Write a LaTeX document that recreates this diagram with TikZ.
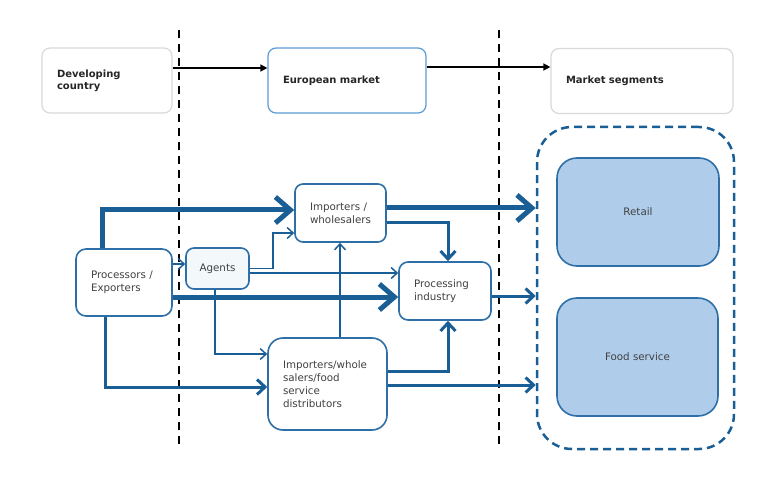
\documentclass[tikz,border=0pt]{standalone}
\usepackage{fontspec}
\setmainfont{DejaVu Sans}
\usetikzlibrary{arrows.meta,calc}
\definecolor{linec}{RGB}{26,94,150}
\definecolor{boxc}{RGB}{46,111,167}
\definecolor{eurc}{RGB}{91,155,213}
\definecolor{grayc}{RGB}{217,217,217}
\definecolor{segfill}{RGB}{175,205,235}
\definecolor{agfill}{RGB}{243,248,250}
\definecolor{txtc}{RGB}{64,64,64}
\begin{document}
\begin{tikzpicture}[x=1pt,y=-1pt,
  every node/.style={execute at begin node={\hyphenpenalty=10000\exhyphenpenalty=10000}},
  topbox/.style={draw=grayc,line width=1.2pt,rounded corners=8pt,fill=white,
    font=\bfseries\fontsize{10}{11.7}\selectfont,text=black!85,align=left,inner xsep=15pt},
  flowbox/.style={draw=boxc,line width=1.6pt,fill=white,font=\fontsize{10.3}{12.8}\selectfont,
    text=txtc,align=left,inner xsep=15pt},
  segbox/.style={draw=boxc,line width=1.6pt,fill=segfill,rounded corners=20pt,
    font=\fontsize{10.3}{12.8}\selectfont,text=txtc,align=center},
  thickarr/.style={draw=linec,line width=5pt,-{Straight Barb[length=15pt,width=26pt,line width=5pt]}},
  medarr/.style={draw=linec,line width=3pt,-{Straight Barb[length=8pt,width=15pt,line width=3pt]}},
  thinarr/.style={draw=linec,line width=1.5pt,-{Straight Barb[length=6pt,width=11pt,line width=1.5pt]}},
  blackarr/.style={draw=black,line width=1.4pt,-{Triangle[length=7pt,width=7pt]}},
  divider/.style={draw=black,line width=1.8pt,dash pattern=on 8pt off 6pt}]
\useasboundingbox (0,0) rectangle (768,481);
% dividers
\coordinate (d1t) at (179,30); \coordinate (d1b) at (179,447);
\coordinate (d2t) at (499,30); \coordinate (d2b) at (499,447);
\draw[divider] (d1t) -- (d1b);
\draw[divider] (d2t) -- (d2b);
% top boxes
\node[topbox,minimum width=130pt,minimum height=65pt,text width=100pt] (dev) at (107,80.5) {Developing\\country};
\node[topbox,draw=eurc,minimum width=158pt,minimum height=65pt,text width=128pt] (eur) at (347,80.5) {European market};
\node[topbox,minimum width=182pt,minimum height=65pt,text width=152pt] (mkt) at (642,81) {Market segments};
\draw[blackarr] ($(dev.east)+(0,-12.5)$) coordinate (a1) -- (a1 -| eur.west);
\draw[blackarr] ($(eur.east)+(0,-13.5)$) coordinate (a2) -- (a2 -| mkt.west);
% container
\node[draw=linec,line width=2.5pt,dash pattern=on 8pt off 5pt,rounded corners=35pt,
  minimum width=197pt,minimum height=322pt] (cont) at (635.5,288) {};
\node[segbox,minimum width=162pt,minimum height=108pt] (retail) at (638,212) {Retail};
\node[segbox,minimum width=161pt,minimum height=118pt] (food) at (637.5,357) {Food service};
% flow boxes
\node[flowbox,rounded corners=8pt,minimum width=91pt,minimum height=58pt,text width=61pt] (iw) at (340.5,213) {Importers /\\wholesalers};
\node[flowbox,rounded corners=8pt,fill=agfill,align=center,inner xsep=2pt,minimum width=63pt,minimum height=41pt] (ag) at (217.5,268.5) {Agents};
\node[flowbox,rounded corners=10pt,minimum width=96pt,minimum height=67pt,text width=66pt] (pe) at (124,282.5) {Processors /\\Exporters};
\node[flowbox,rounded corners=9pt,minimum width=92pt,minimum height=58pt,text width=62pt] (pi) at (445,291) {Processing\\industry};
\node[flowbox,rounded corners=15pt,minimum width=119pt,minimum height=92pt,text width=89pt] (iwf) at (327.5,384) {Importers/whole\\salers/food\\service\\distributors};
% connectors
\draw[thickarr] ($(pe.north west)+(27,0)$) |- ($(iw.west)+(0,-3)$);
\draw[thickarr] ($(iw.east)+(0,-5)$) coordinate (b2) -- (b2 -| cont.west);
\draw[medarr] ($(iw.east)+(0,9)$) -| ($(pi.north)+(3,0)$);
\draw[thinarr] (ag.east) -- ++(23,0) |- ($(iw.west)+(0,20)$);
\draw[thinarr] ($(ag.east)+(0,4.5)$) coordinate (b5) -- (b5 -| pi.west);
\draw[thickarr] ($(pe.east)+(0,14.5)$) coordinate (b6) -- (b6 -| pi.west);
\draw[medarr] ($(pi.east)+(0,5)$) coordinate (b7) -- (b7 -| cont.west);
\draw[thinarr] ($(pe.east)+(0,-18.5)$) coordinate (b8) -- (b8 -| ag.west);
\draw[thinarr] ($(ag.south)+(-2.5,0)$) |- ($(iwf.west)+(0,-30)$);
\draw[medarr] ($(pe.south west)+(30,0)$) |- ($(iwf.west)+(0,3)$);
\draw[thinarr] ($(iwf.north)+(12.5,0)$) coordinate (b11) -- (b11 |- iw.south);
\draw[medarr] ($(iwf.east)+(0,-13)$) -| ($(pi.south)+(3,0)$);
\draw[medarr] ($(iwf.east)+(0,1)$) coordinate (b13) -- (b13 -| cont.west);
\end{tikzpicture}
\end{document}
